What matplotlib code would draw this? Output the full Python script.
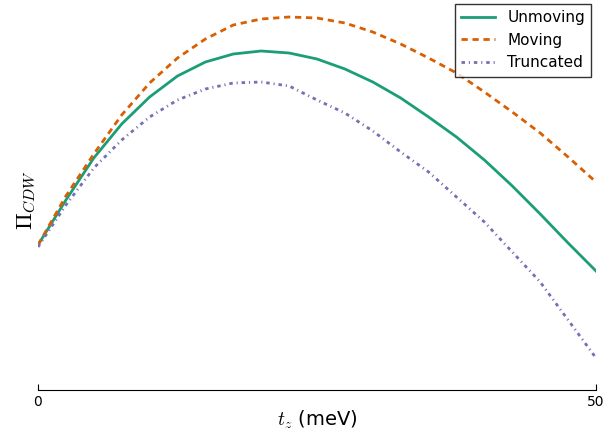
import matplotlib
matplotlib.use("Agg")
import matplotlib.pyplot as plt
import numpy as np

plt.rcParams['mathtext.fontset'] = 'cm'
plt.rcParams['lines.scale_dashes'] = False

tz = [0, 2.5, 5, 7.5, 10, 12.5, 15, 17.5, 20, 22.5, 25, 27.5, 30, 32.5, 35, 37.5, 40, 42.5, 45, 47.5, 50]
# heights (arbitrary units)
unmoving_px = [245, 200, 158, 124, 97, 76, 62, 54, 51, 53, 59, 69, 82, 98, 117, 137, 160, 186, 214, 243, 271]
moving_px = [245, 196, 154, 115, 83, 58, 39, 25, 19, 17, 18, 23, 32, 44, 58, 73, 92, 112, 133, 157, 182]
truncated_px = [247, 205, 168, 140, 117, 100, 89, 83, 82, 86, 100, 113, 131, 152, 172, 197, 222, 252, 282, 320, 358]

base = 390
unmoving = [base - v for v in unmoving_px]
moving = [base - v for v in moving_px]
truncated = [base - v for v in truncated_px]

W, H = 615, 432
fig = plt.figure(figsize=(W / 100, H / 100), dpi=100)
ax = fig.add_axes([38 / W, (H - 390) / H, (596 - 38) / W, (390 - 10) / H])

ax.plot(tz, unmoving, color='#1b9e77', lw=2, label='Unmoving')
ax.plot(tz, moving, color='#d95f02', lw=2, ls=(0, (4.5, 3.4)), label='Moving')
ax.plot(tz, truncated, color='#7570b3', lw=2, ls=(0, (2.5, 2.8, 0.8, 2.8)), label='Truncated')

ax.set_xlim(0, 50)
ax.set_ylim(0, 380)
ax.set_xticks([0, 50])
ax.set_yticks([])
for s in ['top', 'right', 'left']:
    ax.spines[s].set_visible(False)
ax.tick_params(axis='x', direction='in', length=4, labelsize=10)

ax.set_xlabel('$t_z$ (meV)', fontsize=14, labelpad=0)
ax.set_ylabel(r'$\Pi_{CDW}$', fontsize=16, labelpad=0)

leg = fig.legend(loc='upper right', bbox_to_anchor=(591 / W, 1 - 4 / H), fontsize=11,
                 frameon=True, fancybox=False, handlelength=2.2, borderaxespad=0)
leg.get_frame().set_edgecolor('black')
leg.get_frame().set_linewidth(1.0)

fig.savefig('out.png', dpi=100)
